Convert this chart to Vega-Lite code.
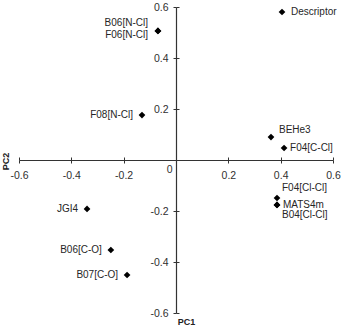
{
  "$schema": "https://vega.github.io/schema/vega-lite/v6.json",
  "width": 314,
  "height": 306,
  "autosize": "none",
  "padding": {"left": 19, "top": 7, "right": 11, "bottom": 17},
  "background": "white",
  "config": {
    "view": {"stroke": null},
    "font": "Liberation Sans",
    "axis": {"grid": false}
  },
  "data": {
    "values": [
      {"label": "B06[N-Cl]", "pc1": -0.069, "pc2": 0.506, "series": "Descriptor"},
      {"label": "F06[N-Cl]", "pc1": -0.069, "pc2": 0.506, "series": "Descriptor"},
      {"label": "F08[N-Cl]", "pc1": -0.13, "pc2": 0.176, "series": "Descriptor"},
      {"label": "BEHe3", "pc1": 0.363, "pc2": 0.09, "series": "Descriptor"},
      {"label": "F04[C-Cl]", "pc1": 0.413, "pc2": 0.047, "series": "Descriptor"},
      {"label": "F04[Cl-Cl]", "pc1": 0.386, "pc2": -0.149, "series": "Descriptor"},
      {"label": "MATS4m", "pc1": 0.386, "pc2": -0.176, "series": "Descriptor"},
      {"label": "B04[Cl-Cl]", "pc1": 0.386, "pc2": -0.176, "series": "Descriptor"},
      {"label": "JGI4", "pc1": -0.34, "pc2": -0.192, "series": "Descriptor"},
      {"label": "B06[C-O]", "pc1": -0.249, "pc2": -0.353, "series": "Descriptor"},
      {"label": "B07[C-O]", "pc1": -0.187, "pc2": -0.451, "series": "Descriptor"}
    ]
  },
  "resolve": {"axis": {"x": "independent", "y": "independent"}},
  "layer": [
    {
      "mark": {"type": "point", "filled": true, "opacity": 1, "size": 45},
      "encoding": {
        "x": {
          "field": "pc1", "type": "quantitative",
          "scale": {"domain": [-0.6, 0.6], "nice": false, "zero": false},
          "axis": {
            "orient": "bottom", "offset": -153,
            "values": [-0.6, -0.4, -0.2, 0, 0.2, 0.4, 0.6],
            "labelExpr": "datum.value === 0 ? '' : (datum.value < 0 ? '-' : '') + format(abs(datum.value), '.1f')",
            "domainColor": "#333333", "domainWidth": 1.2,
            "tickColor": "#333333", "tickWidth": 1, "tickSize": 3,
            "labelFontSize": 10.5, "labelColor": "#303030", "labelPadding": 7,
            "labelFlush": false, "labelOverlap": false,
            "title": "PC1", "titleFontSize": 9, "titleFontWeight": "bold", "titleColor": "#222222",
            "titleX": 167, "titleY": 161, "titleAlign": "center", "titleBaseline": "middle", "titleAngle": 0
          }
        },
        "y": {
          "field": "pc2", "type": "quantitative",
          "scale": {"domain": [-0.6, 0.6], "nice": false, "zero": false},
          "axis": {
            "orient": "left", "offset": -157,
            "values": [-0.6, -0.4, -0.2, 0, 0.2, 0.4, 0.6],
            "labelExpr": "datum.value === 0 ? '0' : (datum.value < 0 ? '-' : '') + format(abs(datum.value), '.1f')",
            "domainColor": "#333333", "domainWidth": 1.2,
            "tickColor": "#333333", "tickWidth": 1, "tickSize": 3,
            "labelFontSize": 10.5, "labelColor": "#303030",
            "labelPadding": {"condition": {"test": "datum.value === 0", "value": 1}, "value": 5},
            "labelOffset": {"condition": {"test": "datum.value === 0", "value": 9}, "value": 0},
            "labelFlush": false, "labelOverlap": false,
            "title": "PC2", "titleFontSize": 9, "titleFontWeight": "bold", "titleColor": "#222222",
            "titleX": -171, "titleY": 154, "titleAlign": "center", "titleBaseline": "middle", "titleAngle": -90
          }
        },
        "shape": {
          "field": "series", "type": "nominal",
          "scale": {"range": ["diamond"]},
          "legend": {"title": null, "orient": "none", "legendX": 258, "legendY": 0, "padding": 0, "symbolSize": 45, "labelFontSize": 10, "labelColor": "#262626", "labelOffset": 4}
        },
        "color": {
          "field": "series", "type": "nominal",
          "scale": {"range": ["#000000"]},
          "legend": {"title": null, "orient": "none", "legendX": 258, "legendY": 0, "padding": 0, "symbolSize": 45, "labelFontSize": 10, "labelColor": "#262626", "labelOffset": 4}
        }
      }
    },
    {
      "transform": [{"filter": {"field": "label", "oneOf": ["F08[N-Cl]", "JGI4", "B06[C-O]", "B07[C-O]"]}}],
      "mark": {"type": "text", "align": "right", "baseline": "middle", "dx": -9, "fontSize": 10, "color": "#262626"},
      "encoding": {
        "x": {
          "field": "pc1", "type": "quantitative",
          "axis": {"orient": "top", "offset": -153, "values": [-0.6, -0.4, -0.2, 0, 0.2, 0.4, 0.6], "labels": false, "domain": false, "tickSize": 3, "tickColor": "#333333", "title": null}
        },
        "y": {
          "field": "pc2", "type": "quantitative",
          "axis": {"orient": "right", "offset": -157, "values": [-0.6, -0.4, -0.2, 0, 0.2, 0.4, 0.6], "labels": false, "domain": false, "tickSize": 3, "tickColor": "#333333", "title": null}
        },
        "text": {"field": "label"}
      }
    },
    {
      "transform": [{"filter": {"field": "label", "equal": "B06[N-Cl]"}}],
      "mark": {"type": "text", "align": "right", "baseline": "middle", "dx": -10, "dy": -8, "fontSize": 10, "color": "#262626"},
      "encoding": {
        "x": {"field": "pc1", "type": "quantitative", "axis": null},
        "y": {"field": "pc2", "type": "quantitative", "axis": null},
        "text": {"field": "label"}
      }
    },
    {
      "transform": [{"filter": {"field": "label", "equal": "F06[N-Cl]"}}],
      "mark": {"type": "text", "align": "right", "baseline": "middle", "dx": -10, "dy": 4, "fontSize": 10, "color": "#262626"},
      "encoding": {
        "x": {"field": "pc1", "type": "quantitative", "axis": null},
        "y": {"field": "pc2", "type": "quantitative", "axis": null},
        "text": {"field": "label"}
      }
    },
    {
      "transform": [{"filter": {"field": "label", "oneOf": ["F04[C-Cl]", "MATS4m"]}}],
      "mark": {"type": "text", "align": "left", "baseline": "middle", "dx": 6, "fontSize": 10, "color": "#262626"},
      "encoding": {
        "x": {"field": "pc1", "type": "quantitative", "axis": null},
        "y": {"field": "pc2", "type": "quantitative", "axis": null},
        "text": {"field": "label"}
      }
    },
    {
      "transform": [{"filter": {"field": "label", "equal": "BEHe3"}}],
      "mark": {"type": "text", "align": "left", "baseline": "middle", "dx": 8, "dy": -7, "fontSize": 10, "color": "#262626"},
      "encoding": {
        "x": {"field": "pc1", "type": "quantitative", "axis": null},
        "y": {"field": "pc2", "type": "quantitative", "axis": null},
        "text": {"field": "label"}
      }
    },
    {
      "transform": [{"filter": {"field": "label", "equal": "F04[Cl-Cl]"}}],
      "mark": {"type": "text", "align": "left", "baseline": "middle", "dx": 5, "dy": -10, "fontSize": 10, "color": "#262626"},
      "encoding": {
        "x": {"field": "pc1", "type": "quantitative", "axis": null},
        "y": {"field": "pc2", "type": "quantitative", "axis": null},
        "text": {"field": "label"}
      }
    },
    {
      "transform": [{"filter": {"field": "label", "equal": "B04[Cl-Cl]"}}],
      "mark": {"type": "text", "align": "left", "baseline": "middle", "dx": 5, "dy": 10, "fontSize": 10, "color": "#262626"},
      "encoding": {
        "x": {"field": "pc1", "type": "quantitative", "axis": null},
        "y": {"field": "pc2", "type": "quantitative", "axis": null},
        "text": {"field": "label"}
      }
    }
  ]
}
